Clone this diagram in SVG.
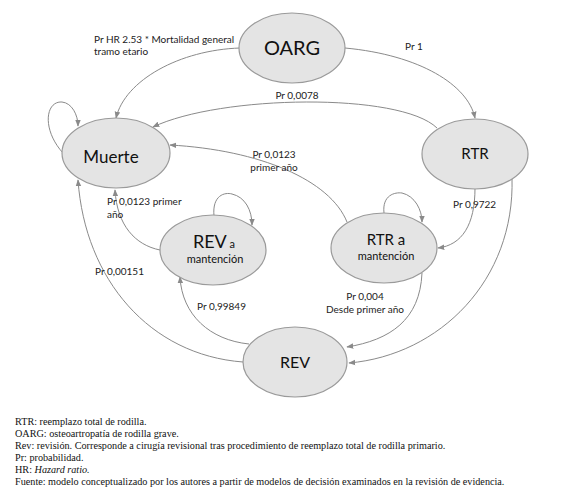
<svg xmlns="http://www.w3.org/2000/svg" width="573" height="504" viewBox="0 0 573 504">
<style>
.node{fill:#e4e4e4;stroke:#9a9a9a;stroke-width:1.2}
.edge{fill:none;stroke:#8a8a8a;stroke-width:1;marker-end:url(#arr)}
.lbl{font-family:Lato,"Open Sans",sans-serif;font-size:10px;fill:#222}
.nt{font-family:Lato,"Open Sans",sans-serif;fill:#111;text-anchor:middle}
.fn{font-family:"Liberation Serif",serif;font-size:10.2px;fill:#111}
</style>
<defs>
<marker id="arr" viewBox="0 0 10 10" refX="9" refY="5" markerWidth="7" markerHeight="7" orient="auto" markerUnits="userSpaceOnUse">
<path d="M0,1 L10,5 L0,9 z" fill="#8a8a8a"/>
</marker>
</defs>
<rect width="573" height="504" fill="#fff"/>
<g id="connectors">
<path class="edge" d="M240,48 C180,50 125,80 116,118"/>
<path class="edge" d="M345,48 C420,55 468,85 475,118"/>
<path class="edge" d="M437,128 C400,92 220,95 153,127"/>
<path class="edge" d="M347,222 C330,180 260,150 170,145"/>
<path class="edge" d="M475,188 C475,225 462,245 438,248"/>
<path class="edge" d="M512,178 C515,280 440,355 349,363"/>
<path class="edge" d="M422,273 C420,320 390,340 347,347"/>
<path class="edge" d="M249,344 C210,340 182,315 180,277"/>
<path class="edge" d="M243,362 C150,355 85,280 78,180"/>
<path class="edge" d="M160,250 C135,245 117,225 115,190"/>
<path class="edge" d="M63,153 C42,130 45,101 62,102 C72,103 78,115 78,126"/>
<path class="edge" d="M214,216 C212,195 225,192 232,194 C245,197 252,210 252,225"/>
<path class="edge" d="M384,213 C382,195 395,192 402,193 C415,196 422,210 422,222"/>
</g>
<g id="edge-labels">
<text class="lbl" x="94" y="43">Pr HR 2.53 * Mortalidad general</text>
<text class="lbl" x="94" y="55">tramo etario</text>
<text class="lbl" x="405" y="50">Pr 1</text>
<text class="lbl" x="297" y="99" text-anchor="middle">Pr 0,0078</text>
<text class="lbl" x="274" y="158" text-anchor="middle">Pr 0,0123</text>
<text class="lbl" x="274" y="171" text-anchor="middle">primer año</text>
<text class="lbl" x="453" y="208">Pr 0,9722</text>
<text class="lbl" x="365" y="300" text-anchor="middle">Pr 0,004</text>
<text class="lbl" x="365" y="313" text-anchor="middle">Desde primer año</text>
<text class="lbl" x="197" y="310">Pr 0,99849</text>
<text class="lbl" x="95" y="275">Pr 0,00151</text>
<text class="lbl" x="107" y="205">Pr 0,0123 primer</text>
<text class="lbl" x="107" y="218">año</text>
</g>
<g id="node-oarg">
<ellipse class="node" cx="292" cy="48" rx="53" ry="35"/>
<text class="nt" x="292" y="55" font-size="20">OARG</text>
</g>
<g id="node-muerte">
<ellipse class="node" cx="116" cy="153" rx="54" ry="35"/>
<text class="nt" x="111" y="163" font-size="17">Muerte</text>
</g>
<g id="node-rtr">
<ellipse class="node" cx="475" cy="154" rx="53" ry="35"/>
<text class="nt" x="475" y="159" font-size="15">RTR</text>
</g>
<g id="node-rev-mant">
<ellipse class="node" cx="213" cy="250" rx="53" ry="35"/>
<text class="nt" x="214" y="248"><tspan font-size="18">REV</tspan><tspan font-size="11"> a</tspan></text>
<text class="nt" x="215" y="263" font-size="11">mantención</text>
</g>
<g id="node-rtr-mant">
<ellipse class="node" cx="384" cy="248" rx="53" ry="35"/>
<text class="nt" x="386" y="245" font-size="15">RTR a</text>
<text class="nt" x="386" y="260" font-size="11">mantención</text>
</g>
<g id="node-rev">
<ellipse class="node" cx="295" cy="362" rx="52" ry="35"/>
<text class="nt" x="295" y="368" font-size="16">REV</text>
</g>
<g id="footnotes">
<text class="fn" x="15" y="425">RTR: reemplazo total de rodilla.</text>
<text class="fn" x="15" y="437">OARG: osteoartropatía de rodilla grave.</text>
<text class="fn" x="15" y="449">Rev: revisión. Corresponde a cirugía revisional tras procedimiento de reemplazo total de rodilla primario.</text>
<text class="fn" x="15" y="461">Pr: probabilidad.</text>
<text class="fn" x="15" y="473">HR: <tspan font-style="italic">Hazard ratio.</tspan></text>
<text class="fn" x="15" y="485">Fuente: modelo conceptualizado por los autores a partir de modelos de decisión examinados en la revisión de evidencia.</text>
</g>
</svg>
